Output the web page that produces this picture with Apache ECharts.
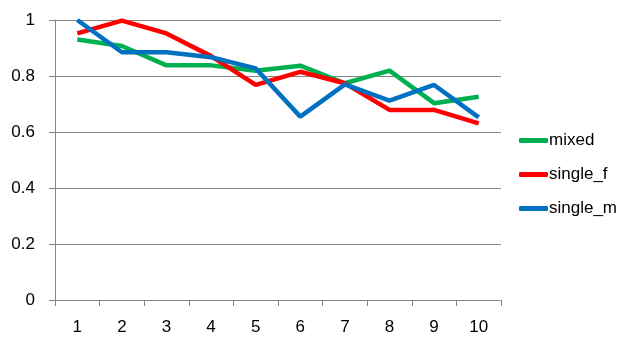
<!DOCTYPE html>
<html><head><meta charset="utf-8">
<script src="https://cdn.jsdelivr.net/npm/echarts@6/dist/echarts.min.js"></script>
<style>html,body{margin:0;padding:0;background:#fff}#c{width:641px;height:348px}</style>
</head><body><div id="c"></div>
<script>
var categories = ['1','2','3','4','5','6','7','8','9','10'];
var mixed    = [0.930, 0.907, 0.838, 0.838, 0.819, 0.837, 0.774, 0.819, 0.703, 0.726];
var single_f = [0.952, 0.998, 0.952, 0.871, 0.768, 0.815, 0.774, 0.679, 0.679, 0.631];
var single_m = [1.000, 0.885, 0.885, 0.867, 0.827, 0.655, 0.770, 0.712, 0.768, 0.652];
var yTicks = [0, 0.2, 0.4, 0.6, 0.8, 1];

var font = 'Liberation Sans';
var chart = echarts.init(document.getElementById('c'));
function s(name, data, color) {
  return { name: name, type: 'line', data: data, symbol: 'none', showSymbol: false,
    lineStyle: { width: 4.5, color: color }, itemStyle: { color: color }, animation: false };
}
chart.setOption({
  animation: false,
  grid: { left: 55, right: 140, top: 20, bottom: 48, containLabel: false },
  legend: {
    orient: 'vertical', left: 514, top: 127, itemGap: 17, itemWidth: 29, itemHeight: 5,
    icon: 'roundRect',
    textStyle: { fontFamily: font, fontSize: 17, color: '#000', padding: [0, 0, 0, -4] },
    data: ['mixed', 'single_f', 'single_m']
  },
  xAxis: {
    type: 'category', data: categories, boundaryGap: true,
    axisLine: { lineStyle: { color: '#868686', width: 1 } },
    axisTick: { show: true, length: 6, lineStyle: { color: '#868686' }, alignWithLabel: false },
    axisLabel: { fontFamily: font, fontSize: 17, color: '#000', margin: 19 }
  },
  yAxis: {
    type: 'value', min: 0, max: 1, interval: 0.2,
    axisLine: { show: true, lineStyle: { color: '#868686', width: 1 } },
    axisTick: { show: true, length: 6, lineStyle: { color: '#868686' } },
    splitLine: { lineStyle: { color: '#868686', width: 1 } },
    axisLabel: { fontFamily: font, fontSize: 17, color: '#000', margin: 20,
      formatter: function (v) { var r = Math.round(v*10)/10; return yTicks.indexOf(r) >= 0 ? String(r) : ''; } }
  },
  series: [s('mixed', mixed, '#00B050'), s('single_f', single_f, '#FF0000'), s('single_m', single_m, '#0070C0')]
});
</script></body></html>
